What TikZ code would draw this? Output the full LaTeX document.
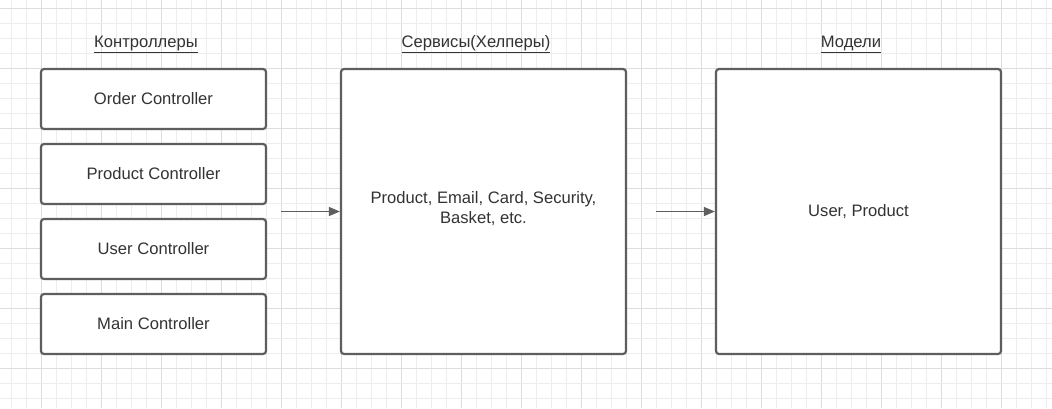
\documentclass[tikz,border=0pt]{standalone}
\usepackage{fontspec}
\setmainfont{Liberation Sans}
\usetikzlibrary{arrows.meta}
\definecolor{gridminor}{HTML}{EDEDED}
\definecolor{gridmajor}{HTML}{DDDDDD}
\definecolor{boxline}{HTML}{5E5E5E}
\definecolor{txt}{HTML}{333333}
\tikzset{
  box/.style={draw=boxline, line width=2.2pt, rounded corners=3pt, fill=white, inner sep=0pt, text=txt, font=\fontsize{16.6}{20}\selectfont, align=center},
  head/.style={text=txt, font=\fontsize{16.6}{20}\selectfont, inner sep=0pt},
  conn/.style={draw=boxline, line width=1.3pt, -{Triangle[length=11pt,width=9pt]}}
}
\begin{document}
\begin{tikzpicture}[x=1pt,y=-1pt]
\useasboundingbox (0,0) rectangle (1052,408);
\fill[white] (0,0) rectangle (1052,408);
% grid
\foreach \i in {0,...,69} {
  \pgfmathsetmacro{\xx}{11.7+15*\i}
  \pgfmathtruncatemacro{\m}{mod(\i,4)}
  \ifnum\m=2 \draw[gridmajor, line width=1pt] (\xx,0) -- (\xx,408);
  \else \draw[gridminor, line width=1pt] (\xx,0) -- (\xx,408); \fi
}
\foreach \i in {0,...,27} {
  \pgfmathsetmacro{\yy}{8+15*\i}
  \pgfmathtruncatemacro{\m}{mod(\i,4)}
  \ifnum\m=0 \draw[gridmajor, line width=1pt] (0,\yy) -- (1052,\yy);
  \else \draw[gridminor, line width=1pt] (0,\yy) -- (1052,\yy); \fi
}
% headings
\node[head] (h1) at (146,44.5) {\underline{Контроллеры}};
\node[head] (h2) at (476,44.5) {\underline{Сервисы(Хелперы)}};
\node[head] (h3) at (851,44.5) {\underline{Модели}};
% controllers
\node[box, text depth=2pt, minimum width=225pt, minimum height=60pt] (c1) at (153.5,99) {Order Controller};
\node[box, text depth=2pt, minimum width=225pt, minimum height=60pt] (c2) at (153.5,174) {Product Controller};
\node[box, text depth=2pt, minimum width=225pt, minimum height=60pt] (c3) at (153.5,249) {User Controller};
\node[box, text depth=2pt, minimum width=225pt, minimum height=60pt] (c4) at (153.5,324) {Main Controller};
% services
\node[box, text depth=9pt, minimum width=285pt, minimum height=285pt] (s) at (483.5,211.5) {Product, Email, Card, Security,\\Basket, etc.};
% models
\node[box, minimum width=285pt, minimum height=285pt] (m) at (858.5,211.5) {User, Product};
% connectors
\coordinate (a1) at (281,211.5);
\coordinate (a2) at (656,211.5);
\draw[conn] (a1) -- (s.west);
\draw[conn] (a2) -- (m.west);
\end{tikzpicture}
\end{document}
